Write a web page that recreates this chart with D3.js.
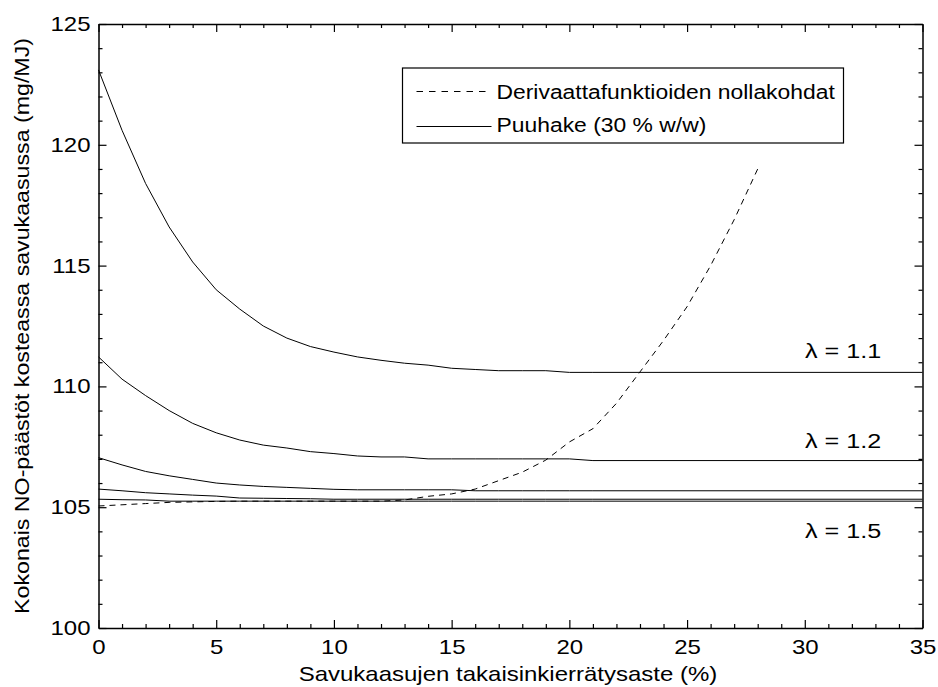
<!DOCTYPE html>
<html>
<head>
<meta charset="utf-8">
<script src="https://cdn.jsdelivr.net/npm/d3@7"></script>
<style>
  body { margin: 0; background: #fff; }
  text { font-family: "Liberation Sans", Arial, sans-serif; fill: #000; }
</style>
</head>
<body>
<div id="viz"></div>
<script>
// recirculation rate (%) breakpoints shared by the solid curves
const recX = [0, 1, 2, 3, 4, 5, 6, 7, 8, 9, 10, 11, 12, 13, 14, 15, 16, 17, 18, 19, 20, 21, 35];
const lambda11 = [123.1, 120.6, 118.4, 116.6, 115.15, 114.0, 113.2, 112.5, 112.0, 111.65, 111.42,
                  111.22, 111.08, 110.96, 110.88, 110.75, 110.7, 110.65, 110.65, 110.65, 110.58, 110.58, 110.58];
const lambda12 = [111.22, 110.3, 109.62, 109.0, 108.47, 108.08, 107.78, 107.57, 107.45, 107.3, 107.22,
                  107.12, 107.08, 107.08, 107.0, 107.0, 107.0, 107.0, 107.0, 107.0, 107.0, 106.93, 106.93];
const lambda13 = [107.05, 106.75, 106.48, 106.3, 106.15, 106.0, 105.92, 105.86, 105.82, 105.78, 105.74,
                  105.72, 105.72, 105.72, 105.72, 105.72, 105.68, 105.68, 105.68, 105.68, 105.68, 105.68, 105.68];
const lambda14 = [105.75, 105.68, 105.6, 105.55, 105.5, 105.46, 105.38, 105.37, 105.36, 105.35, 105.33,
                  105.33, 105.33, 105.33, 105.33, 105.33, 105.33, 105.33, 105.33, 105.33, 105.33, 105.33, 105.33];
const lambda15 = [105.33, 105.31, 105.3, 105.25, 105.25, 105.25, 105.25, 105.25, 105.25, 105.25, 105.25,
                  105.25, 105.25, 105.25, 105.25, 105.25, 105.25, 105.25, 105.25, 105.25, 105.25, 105.25, 105.25];

// zero points of the derivative functions (dashed)
const zeroX = [0, 1, 2, 3, 4, 5, 6, 7, 8, 9, 10, 11, 12, 13, 14, 15, 16, 17, 18, 19, 20, 21, 22, 23, 24, 25, 26, 27, 28];
const zeroY = [105.05, 105.1, 105.15, 105.2, 105.22, 105.24, 105.25, 105.25, 105.25, 105.25, 105.25, 105.25, 105.25,
               105.3, 105.45, 105.55, 105.75, 106.1, 106.45, 106.95, 107.7, 108.25, 109.3, 110.6, 111.9, 113.3,
               115.0, 116.9, 119.0];

const xTicks = [0, 5, 10, 15, 20, 25, 30, 35];
const yTicks = [100, 105, 110, 115, 120, 125];
const curveLabels = ['λ = 1.1', 'λ = 1.2', 'λ = 1.5'];
const legendText = ['Derivaattafunktioiden nollakohdat', 'Puuhake (30 % w/w)'];
const xTitle = 'Savukaasujen takaisinkierrätysaste (%)';
const yTitle = 'Kokonais NO-päästöt kosteassa savukaasussa (mg/MJ)';

const width = 938;
const height = 687;
const plotLeft = 98.5, plotRight = 922.5, plotTop = 24, plotBottom = 628;
const sx = 1.2; // glyphs in the original are drawn a bit wider than Arial

let svg = d3.select('#viz')
            .append('svg')
            .attr('width', width)
            .attr('height', height);

let xScale = d3.scaleLinear().domain([0, 35]).range([plotLeft, plotRight]);
let yScale = d3.scaleLinear().domain([100, 125]).range([plotBottom, plotTop]);

const xMinor = d3.range(0, 36).filter(d => d % 5 !== 0);
const yMinor = d3.range(100, 126).filter(d => d % 5 !== 0);

// curves
let line = d3.line()
             .x(d => xScale(d[0]))
             .y(d => yScale(d[1]));

[lambda11, lambda12, lambda13, lambda14, lambda15].forEach(series => {
    svg.append('path')
       .datum(recX.map((x, i) => [x, series[i]]))
       .attr('d', line)
       .attr('fill', 'none')
       .attr('stroke', '#000')
       .attr('stroke-width', 1);
});

svg.append('path')
   .datum(zeroX.map((x, i) => [x, zeroY[i]]))
   .attr('d', line)
   .attr('fill', 'none')
   .attr('stroke', '#000')
   .attr('stroke-width', 1)
   .attr('stroke-dasharray', '6,5');

// axes: ticks on all four sides, pointing inward
function addAxis(axis, tx, ty, keepDomain) {
    let g = svg.append('g')
               .attr('transform', 'translate(' + tx + ',' + ty + ')')
               .call(axis);
    if (!keepDomain) g.select('.domain').remove();
    g.select('.domain').attr('stroke-width', 1.5);
    g.selectAll('.tick line').attr('stroke-width', 1.2);
    return g;
}

let xAxisG = addAxis(d3.axisBottom(xScale).tickValues(xTicks).tickSizeInner(-8).tickSizeOuter(0).tickPadding(12), 0, plotBottom, true);
addAxis(d3.axisBottom(xScale).tickValues(xMinor).tickSizeInner(-4).tickSizeOuter(0).tickFormat(''), 0, plotBottom, false);
addAxis(d3.axisTop(xScale).tickValues(xTicks).tickSizeInner(-8).tickSizeOuter(0).tickFormat(''), 0, plotTop, true);
addAxis(d3.axisTop(xScale).tickValues(xMinor).tickSizeInner(-4).tickSizeOuter(0).tickFormat(''), 0, plotTop, false);
let yAxisG = addAxis(d3.axisLeft(yScale).tickValues(yTicks).tickSizeInner(-8).tickSizeOuter(0).tickPadding(8), plotLeft, 0, true);
addAxis(d3.axisLeft(yScale).tickValues(yMinor).tickSizeInner(-4).tickSizeOuter(0).tickFormat(''), plotLeft, 0, false);
addAxis(d3.axisRight(yScale).tickValues(yTicks).tickSizeInner(-8).tickSizeOuter(0).tickFormat(''), plotRight, 0, true);
addAxis(d3.axisRight(yScale).tickValues(yMinor).tickSizeInner(-4).tickSizeOuter(0).tickFormat(''), plotRight, 0, false);

xAxisG.selectAll('text')
      .attr('font-size', 20)
      .attr('font-family', '"Liberation Sans", Arial, sans-serif')
      .attr('transform', 'scale(' + sx + ',1)');
yAxisG.selectAll('text')
      .attr('font-size', 20)
      .attr('font-family', '"Liberation Sans", Arial, sans-serif')
      .attr('x', 0)
      .attr('transform', 'translate(-8,0) scale(' + sx + ',1)');

// axis titles
svg.append('text')
   .attr('transform', 'translate(508,681) scale(' + sx + ',1)')
   .attr('text-anchor', 'middle')
   .attr('font-size', 20)
   .text(xTitle);
svg.append('text')
   .attr('transform', 'translate(29,326) rotate(-90) scale(1.16,1)')
   .attr('text-anchor', 'middle')
   .attr('font-size', 20)
   .text(yTitle);

// lambda labels
svg.selectAll('.lam')
   .data(curveLabels)
   .enter()
   .append('text')
   .attr('class', 'lam')
   .attr('font-size', 21)
   .attr('transform', (d, i) => 'translate(805,' + [358, 448, 538][i] + ') scale(' + sx + ',1)')
   .text(d => d);

// legend
let legend = svg.append('g').attr('transform', 'translate(402.5,68)');
legend.append('rect')
      .attr('width', 441)
      .attr('height', 75)
      .attr('fill', '#fff')
      .attr('stroke', '#000')
      .attr('stroke-width', 1.2);
legend.selectAll('line')
      .data(legendText)
      .enter()
      .append('line')
      .attr('x1', 14)
      .attr('x2', 89)
      .attr('y1', (d, i) => 23.5 + i * 35)
      .attr('y2', (d, i) => 23.5 + i * 35)
      .attr('stroke', '#000')
      .attr('stroke-width', 1)
      .attr('stroke-dasharray', (d, i) => i === 0 ? '6.5,6' : null);
legend.selectAll('text')
      .data(legendText)
      .enter()
      .append('text')
      .attr('font-size', 21)
      .attr('transform', (d, i) => 'translate(94,' + (31 + i * 33) + ') scale(1.09,1)')
      .text(d => d);
</script>
</body>
</html>
